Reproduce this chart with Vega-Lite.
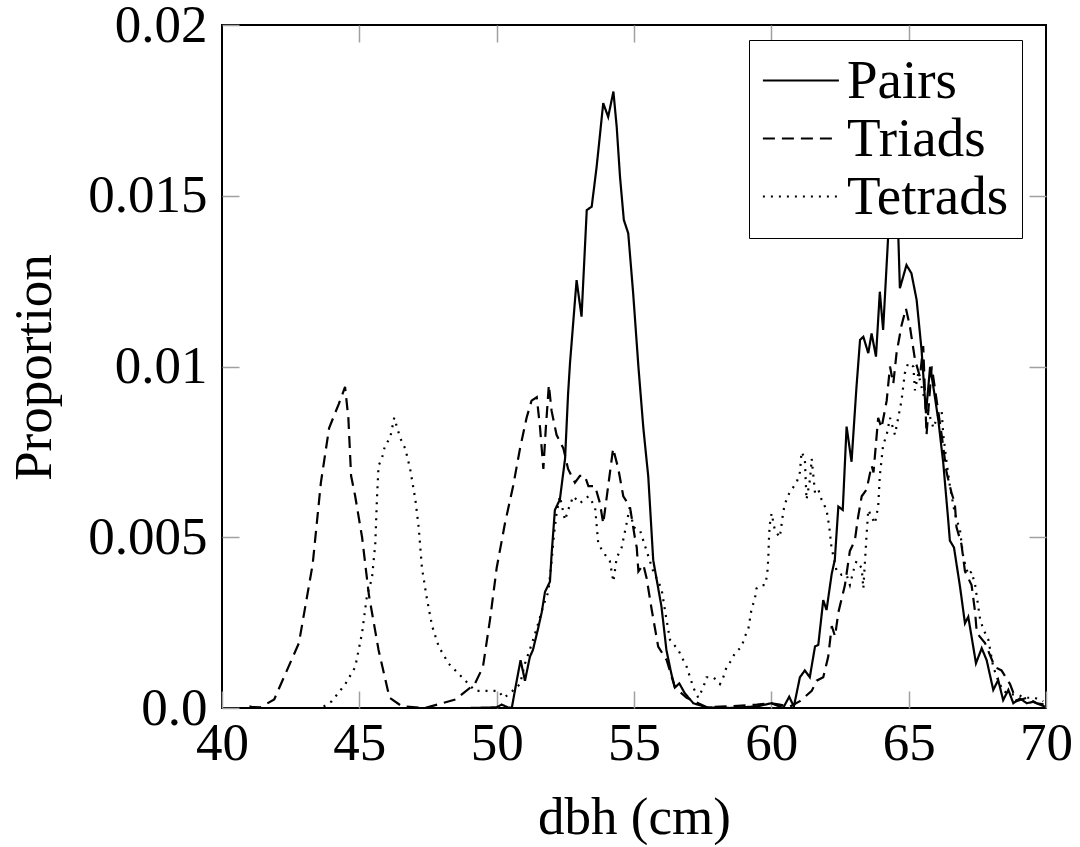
{
  "$schema": "https://vega.github.io/schema/vega-lite/v6.json",
  "width": 824,
  "height": 683,
  "autosize": "none",
  "padding": {"left": 222, "top": 25, "right": 34, "bottom": 139},
  "background": "white",
  "config": {
    "font": "Liberation Serif",
    "view": {"stroke": "black", "strokeWidth": 2}
  },
  "data": {"values": [
{"s":"Pairs","x":49.0,"y":0},{"s":"Pairs","x":50.0,"y":0.00002},{"s":"Pairs","x":50.18,"y":0.0001},{"s":"Pairs","x":50.4,"y":0.00002},{"s":"Pairs","x":50.55,"y":0},{"s":"Pairs","x":50.73,"y":0.0008},{"s":"Pairs","x":50.87,"y":0.0014},{"s":"Pairs","x":51.03,"y":0.0008},{"s":"Pairs","x":51.21,"y":0.0015},{"s":"Pairs","x":51.32,"y":0.0017},{"s":"Pairs","x":51.5,"y":0.0023},{"s":"Pairs","x":51.64,"y":0.0028},{"s":"Pairs","x":51.76,"y":0.0034},{"s":"Pairs","x":51.94,"y":0.0037},{"s":"Pairs","x":52.0,"y":0.0045},{"s":"Pairs","x":52.12,"y":0.0058},{"s":"Pairs","x":52.3,"y":0.0061},{"s":"Pairs","x":52.49,"y":0.0073},{"s":"Pairs","x":52.6,"y":0.0092},{"s":"Pairs","x":52.67,"y":0.0101},{"s":"Pairs","x":52.91,"y":0.01253},{"s":"Pairs","x":53.09,"y":0.01146},{"s":"Pairs","x":53.28,"y":0.01458},{"s":"Pairs","x":53.46,"y":0.01468},{"s":"Pairs","x":53.64,"y":0.01585},{"s":"Pairs","x":53.88,"y":0.01771},{"s":"Pairs","x":54.06,"y":0.01731},{"s":"Pairs","x":54.25,"y":0.01805},{"s":"Pairs","x":54.37,"y":0.01702},{"s":"Pairs","x":54.49,"y":0.01556},{"s":"Pairs","x":54.63,"y":0.01429},{"s":"Pairs","x":54.79,"y":0.0139},{"s":"Pairs","x":54.97,"y":0.01214},{"s":"Pairs","x":55.16,"y":0.0100},{"s":"Pairs","x":55.34,"y":0.0082},{"s":"Pairs","x":55.52,"y":0.00677},{"s":"Pairs","x":55.7,"y":0.00433},{"s":"Pairs","x":56.0,"y":0.00297},{"s":"Pairs","x":56.18,"y":0.0017},{"s":"Pairs","x":56.36,"y":0.001},{"s":"Pairs","x":56.49,"y":0.0006},{"s":"Pairs","x":56.65,"y":0.00072},{"s":"Pairs","x":56.85,"y":0.00043},{"s":"Pairs","x":57.16,"y":0.00014},{"s":"Pairs","x":57.64,"y":0.00002},{"s":"Pairs","x":58.5,"y":0},{"s":"Pairs","x":59.5,"y":0.00005},{"s":"Pairs","x":60.0,"y":0.00014},{"s":"Pairs","x":60.43,"y":0},{"s":"Pairs","x":60.65,"y":0.00033},{"s":"Pairs","x":60.82,"y":0.00004},{"s":"Pairs","x":61.04,"y":0.0009},{"s":"Pairs","x":61.22,"y":0.0011},{"s":"Pairs","x":61.4,"y":0.0009},{"s":"Pairs","x":61.59,"y":0.0018},{"s":"Pairs","x":61.71,"y":0.00185},{"s":"Pairs","x":61.89,"y":0.00316},{"s":"Pairs","x":62.01,"y":0.00287},{"s":"Pairs","x":62.2,"y":0.00394},{"s":"Pairs","x":62.31,"y":0.00433},{"s":"Pairs","x":62.44,"y":0.0059},{"s":"Pairs","x":62.6,"y":0.0058},{"s":"Pairs","x":62.74,"y":0.00824},{"s":"Pairs","x":62.92,"y":0.00721},{"s":"Pairs","x":63.1,"y":0.0094},{"s":"Pairs","x":63.23,"y":0.01078},{"s":"Pairs","x":63.35,"y":0.01087},{"s":"Pairs","x":63.53,"y":0.01039},{"s":"Pairs","x":63.65,"y":0.01097},{"s":"Pairs","x":63.81,"y":0.01029},{"s":"Pairs","x":63.95,"y":0.01219},{"s":"Pairs","x":64.07,"y":0.01107},{"s":"Pairs","x":64.3,"y":0.0145},{"s":"Pairs","x":64.45,"y":0.015},{"s":"Pairs","x":64.62,"y":0.0139},{"s":"Pairs","x":64.68,"y":0.01229},{"s":"Pairs","x":64.92,"y":0.01297},{"s":"Pairs","x":65.1,"y":0.01273},{"s":"Pairs","x":65.29,"y":0.01195},{"s":"Pairs","x":65.47,"y":0.01048},{"s":"Pairs","x":65.63,"y":0.00863},{"s":"Pairs","x":65.78,"y":0.00999},{"s":"Pairs","x":65.9,"y":0.0094},{"s":"Pairs","x":66.08,"y":0.00843},{"s":"Pairs","x":66.26,"y":0.00717},{"s":"Pairs","x":66.44,"y":0.0055},{"s":"Pairs","x":66.5,"y":0.0049},{"s":"Pairs","x":66.65,"y":0.0047},{"s":"Pairs","x":66.87,"y":0.00355},{"s":"Pairs","x":67.05,"y":0.00248},{"s":"Pairs","x":67.17,"y":0.00267},{"s":"Pairs","x":67.35,"y":0.0018},{"s":"Pairs","x":67.45,"y":0.00131},{"s":"Pairs","x":67.66,"y":0.00175},{"s":"Pairs","x":67.84,"y":0.0014},{"s":"Pairs","x":68.08,"y":0.00053},{"s":"Pairs","x":68.26,"y":0.00082},{"s":"Pairs","x":68.44,"y":0.00023},{"s":"Pairs","x":68.63,"y":0.00053},{"s":"Pairs","x":68.81,"y":0.00014},{"s":"Pairs","x":69.05,"y":0.00028},{"s":"Pairs","x":69.3,"y":0.00014},{"s":"Pairs","x":69.53,"y":0.00018},{"s":"Pairs","x":69.96,"y":0.00004},
{"s":"Triads","x":41.0,"y":0.00005},{"s":"Triads","x":41.1,"y":0.00003},{"s":"Triads","x":41.4,"y":0.00002},{"s":"Triads","x":41.9,"y":0.00025},{"s":"Triads","x":42.8,"y":0.0019},{"s":"Triads","x":43.3,"y":0.0042},{"s":"Triads","x":43.6,"y":0.0066},{"s":"Triads","x":43.9,"y":0.0082},{"s":"Triads","x":44.25,"y":0.0089},{"s":"Triads","x":44.48,"y":0.0094},{"s":"Triads","x":44.6,"y":0.0085},{"s":"Triads","x":44.7,"y":0.0068},{"s":"Triads","x":44.85,"y":0.0062},{"s":"Triads","x":45.1,"y":0.005},{"s":"Triads","x":45.35,"y":0.0033},{"s":"Triads","x":45.7,"y":0.0017},{"s":"Triads","x":46.1,"y":0.0003},{"s":"Triads","x":46.55,"y":0.00005},{"s":"Triads","x":47.4,"y":0.0},{"s":"Triads","x":48.5,"y":0.00025},{"s":"Triads","x":49.2,"y":0.0007},{"s":"Triads","x":49.5,"y":0.0012},{"s":"Triads","x":49.76,"y":0.0026},{"s":"Triads","x":50.0,"y":0.0041},{"s":"Triads","x":50.3,"y":0.0054},{"s":"Triads","x":50.6,"y":0.0065},{"s":"Triads","x":50.85,"y":0.0076},{"s":"Triads","x":51.09,"y":0.0085},{"s":"Triads","x":51.27,"y":0.009},{"s":"Triads","x":51.46,"y":0.0091},{"s":"Triads","x":51.58,"y":0.0082},{"s":"Triads","x":51.7,"y":0.007},{"s":"Triads","x":51.79,"y":0.0082},{"s":"Triads","x":51.9,"y":0.00946},{"s":"Triads","x":52.0,"y":0.0087},{"s":"Triads","x":52.18,"y":0.008},{"s":"Triads","x":52.43,"y":0.0076},{"s":"Triads","x":52.6,"y":0.007},{"s":"Triads","x":52.85,"y":0.0066},{"s":"Triads","x":53.03,"y":0.0068},{"s":"Triads","x":53.21,"y":0.0068},{"s":"Triads","x":53.34,"y":0.0065},{"s":"Triads","x":53.58,"y":0.0065},{"s":"Triads","x":53.76,"y":0.006},{"s":"Triads","x":53.88,"y":0.0054},{"s":"Triads","x":54.06,"y":0.0065},{"s":"Triads","x":54.24,"y":0.0076},{"s":"Triads","x":54.43,"y":0.007},{"s":"Triads","x":54.61,"y":0.0062},{"s":"Triads","x":54.85,"y":0.0059},{"s":"Triads","x":55.03,"y":0.005},{"s":"Triads","x":55.1,"y":0.0047},{"s":"Triads","x":55.16,"y":0.004},{"s":"Triads","x":55.34,"y":0.0042},{"s":"Triads","x":55.46,"y":0.0038},{"s":"Triads","x":55.64,"y":0.0029},{"s":"Triads","x":55.88,"y":0.0018},{"s":"Triads","x":56.19,"y":0.0014},{"s":"Triads","x":56.49,"y":0.0006},{"s":"Triads","x":56.92,"y":0.0003},{"s":"Triads","x":57.65,"y":0.00002},{"s":"Triads","x":58.5,"y":0.00005},{"s":"Triads","x":59.47,"y":0.0001},{"s":"Triads","x":60.0,"y":0.00014},{"s":"Triads","x":60.3,"y":0.0001},{"s":"Triads","x":60.68,"y":0.00004},{"s":"Triads","x":61.04,"y":0.0002},{"s":"Triads","x":61.47,"y":0.0005},{"s":"Triads","x":61.65,"y":0.0008},{"s":"Triads","x":61.89,"y":0.0009},{"s":"Triads","x":62.07,"y":0.0015},{"s":"Triads","x":62.2,"y":0.0024},{"s":"Triads","x":62.32,"y":0.0021},{"s":"Triads","x":62.44,"y":0.0028},{"s":"Triads","x":62.68,"y":0.0036},{"s":"Triads","x":62.86,"y":0.0046},{"s":"Triads","x":63.04,"y":0.0049},{"s":"Triads","x":63.16,"y":0.0056},{"s":"Triads","x":63.29,"y":0.0062},{"s":"Triads","x":63.47,"y":0.0064},{"s":"Triads","x":63.65,"y":0.0071},{"s":"Triads","x":63.72,"y":0.0069},{"s":"Triads","x":63.89,"y":0.0085},{"s":"Triads","x":64.01,"y":0.0082},{"s":"Triads","x":64.2,"y":0.009},{"s":"Triads","x":64.32,"y":0.01},{"s":"Triads","x":64.44,"y":0.0095},{"s":"Triads","x":64.56,"y":0.0104},{"s":"Triads","x":64.74,"y":0.0112},{"s":"Triads","x":64.9,"y":0.0117},{"s":"Triads","x":65.04,"y":0.0112},{"s":"Triads","x":65.23,"y":0.0102},{"s":"Triads","x":65.41,"y":0.0097},{"s":"Triads","x":65.53,"y":0.0106},{"s":"Triads","x":65.65,"y":0.008},{"s":"Triads","x":65.84,"y":0.01},{"s":"Triads","x":66.02,"y":0.009},{"s":"Triads","x":66.2,"y":0.008},{"s":"Triads","x":66.38,"y":0.0069},{"s":"Triads","x":66.56,"y":0.0063},{"s":"Triads","x":66.68,"y":0.006},{"s":"Triads","x":66.74,"y":0.0053},{"s":"Triads","x":66.92,"y":0.0048},{"s":"Triads","x":67.05,"y":0.004},{"s":"Triads","x":67.29,"y":0.0036},{"s":"Triads","x":67.42,"y":0.0028},{"s":"Triads","x":67.48,"y":0.0022},{"s":"Triads","x":67.78,"y":0.0019},{"s":"Triads","x":68.14,"y":0.0012},{"s":"Triads","x":68.38,"y":0.0011},{"s":"Triads","x":68.69,"y":0.0007},{"s":"Triads","x":68.93,"y":0.0002},{"s":"Triads","x":69.3,"y":0.0003},{"s":"Triads","x":69.66,"y":0.00014},{"s":"Triads","x":69.96,"y":0.0001},
{"s":"Tetrads","x":43.7,"y":0.00004},{"s":"Tetrads","x":44.0,"y":0.0002},{"s":"Tetrads","x":44.49,"y":0.0007},{"s":"Tetrads","x":44.85,"y":0.0012},{"s":"Tetrads","x":45.1,"y":0.0022},{"s":"Tetrads","x":45.28,"y":0.0033},{"s":"Tetrads","x":45.46,"y":0.0038},{"s":"Tetrads","x":45.58,"y":0.0048},{"s":"Tetrads","x":45.64,"y":0.0061},{"s":"Tetrads","x":45.7,"y":0.0071},{"s":"Tetrads","x":45.82,"y":0.0073},{"s":"Tetrads","x":45.94,"y":0.0077},{"s":"Tetrads","x":46.12,"y":0.0079},{"s":"Tetrads","x":46.27,"y":0.0085},{"s":"Tetrads","x":46.49,"y":0.0079},{"s":"Tetrads","x":46.67,"y":0.0076},{"s":"Tetrads","x":46.85,"y":0.007},{"s":"Tetrads","x":47.04,"y":0.0061},{"s":"Tetrads","x":47.16,"y":0.0053},{"s":"Tetrads","x":47.28,"y":0.0041},{"s":"Tetrads","x":47.46,"y":0.0032},{"s":"Tetrads","x":47.65,"y":0.0024},{"s":"Tetrads","x":47.89,"y":0.0018},{"s":"Tetrads","x":48.25,"y":0.0013},{"s":"Tetrads","x":48.74,"y":0.0009},{"s":"Tetrads","x":49.22,"y":0.0005},{"s":"Tetrads","x":49.71,"y":0.0005},{"s":"Tetrads","x":50.07,"y":0.0005},{"s":"Tetrads","x":50.25,"y":0.0003},{"s":"Tetrads","x":50.44,"y":0.0004},{"s":"Tetrads","x":50.85,"y":0.0007},{"s":"Tetrads","x":51.03,"y":0.0013},{"s":"Tetrads","x":51.33,"y":0.002},{"s":"Tetrads","x":51.52,"y":0.0025},{"s":"Tetrads","x":51.7,"y":0.003},{"s":"Tetrads","x":51.88,"y":0.0034},{"s":"Tetrads","x":52.0,"y":0.0043},{"s":"Tetrads","x":52.09,"y":0.0051},{"s":"Tetrads","x":52.18,"y":0.0057},{"s":"Tetrads","x":52.3,"y":0.0062},{"s":"Tetrads","x":52.49,"y":0.0055},{"s":"Tetrads","x":52.6,"y":0.0058},{"s":"Tetrads","x":52.79,"y":0.0062},{"s":"Tetrads","x":53.03,"y":0.006},{"s":"Tetrads","x":53.34,"y":0.0062},{"s":"Tetrads","x":53.58,"y":0.0059},{"s":"Tetrads","x":53.7,"y":0.0048},{"s":"Tetrads","x":53.94,"y":0.0045},{"s":"Tetrads","x":54.12,"y":0.0043},{"s":"Tetrads","x":54.25,"y":0.0037},{"s":"Tetrads","x":54.37,"y":0.0044},{"s":"Tetrads","x":54.55,"y":0.0047},{"s":"Tetrads","x":54.73,"y":0.0054},{"s":"Tetrads","x":54.85,"y":0.0059},{"s":"Tetrads","x":54.97,"y":0.0053},{"s":"Tetrads","x":55.22,"y":0.0052},{"s":"Tetrads","x":55.46,"y":0.0046},{"s":"Tetrads","x":55.7,"y":0.004},{"s":"Tetrads","x":56.0,"y":0.0035},{"s":"Tetrads","x":56.18,"y":0.0026},{"s":"Tetrads","x":56.31,"y":0.002},{"s":"Tetrads","x":56.61,"y":0.0017},{"s":"Tetrads","x":56.92,"y":0.0012},{"s":"Tetrads","x":57.16,"y":0.0006},{"s":"Tetrads","x":57.34,"y":0.0003},{"s":"Tetrads","x":57.52,"y":0.0006},{"s":"Tetrads","x":57.64,"y":0.0009},{"s":"Tetrads","x":57.89,"y":0.0009},{"s":"Tetrads","x":58.13,"y":0.0007},{"s":"Tetrads","x":58.25,"y":0.0009},{"s":"Tetrads","x":58.37,"y":0.0012},{"s":"Tetrads","x":58.55,"y":0.0014},{"s":"Tetrads","x":58.67,"y":0.0016},{"s":"Tetrads","x":58.92,"y":0.0018},{"s":"Tetrads","x":59.04,"y":0.0021},{"s":"Tetrads","x":59.16,"y":0.0023},{"s":"Tetrads","x":59.22,"y":0.0026},{"s":"Tetrads","x":59.28,"y":0.0029},{"s":"Tetrads","x":59.4,"y":0.0032},{"s":"Tetrads","x":59.46,"y":0.0035},{"s":"Tetrads","x":59.65,"y":0.0036},{"s":"Tetrads","x":59.77,"y":0.0036},{"s":"Tetrads","x":59.85,"y":0.0039},{"s":"Tetrads","x":59.89,"y":0.0044},{"s":"Tetrads","x":59.92,"y":0.0051},{"s":"Tetrads","x":59.95,"y":0.0054},{"s":"Tetrads","x":60.01,"y":0.0057},{"s":"Tetrads","x":60.13,"y":0.0052},{"s":"Tetrads","x":60.31,"y":0.005},{"s":"Tetrads","x":60.41,"y":0.0056},{"s":"Tetrads","x":60.47,"y":0.0059},{"s":"Tetrads","x":60.59,"y":0.0062},{"s":"Tetrads","x":60.74,"y":0.0064},{"s":"Tetrads","x":60.92,"y":0.0066},{"s":"Tetrads","x":61.04,"y":0.0069},{"s":"Tetrads","x":61.1,"y":0.0075},{"s":"Tetrads","x":61.22,"y":0.0073},{"s":"Tetrads","x":61.28,"y":0.0061},{"s":"Tetrads","x":61.41,"y":0.0067},{"s":"Tetrads","x":61.47,"y":0.0073},{"s":"Tetrads","x":61.59,"y":0.0063},{"s":"Tetrads","x":61.71,"y":0.0064},{"s":"Tetrads","x":61.83,"y":0.0061},{"s":"Tetrads","x":62.01,"y":0.0058},{"s":"Tetrads","x":62.11,"y":0.0053},{"s":"Tetrads","x":62.19,"y":0.0047},{"s":"Tetrads","x":62.38,"y":0.004},{"s":"Tetrads","x":62.56,"y":0.0039},{"s":"Tetrads","x":62.74,"y":0.0039},{"s":"Tetrads","x":62.86,"y":0.0036},{"s":"Tetrads","x":62.98,"y":0.004},{"s":"Tetrads","x":63.1,"y":0.0043},{"s":"Tetrads","x":63.29,"y":0.0041},{"s":"Tetrads","x":63.35,"y":0.0035},{"s":"Tetrads","x":63.47,"y":0.0051},{"s":"Tetrads","x":63.53,"y":0.0058},{"s":"Tetrads","x":63.65,"y":0.0056},{"s":"Tetrads","x":63.77,"y":0.0054},{"s":"Tetrads","x":63.89,"y":0.0059},{"s":"Tetrads","x":63.95,"y":0.0068},{"s":"Tetrads","x":64.07,"y":0.0077},{"s":"Tetrads","x":64.2,"y":0.008},{"s":"Tetrads","x":64.32,"y":0.0085},{"s":"Tetrads","x":64.5,"y":0.008},{"s":"Tetrads","x":64.62,"y":0.0085},{"s":"Tetrads","x":64.74,"y":0.009},{"s":"Tetrads","x":64.86,"y":0.0098},{"s":"Tetrads","x":64.98,"y":0.0101},{"s":"Tetrads","x":65.17,"y":0.01},{"s":"Tetrads","x":65.23,"y":0.0093},{"s":"Tetrads","x":65.35,"y":0.0098},{"s":"Tetrads","x":65.53,"y":0.0092},{"s":"Tetrads","x":65.71,"y":0.0087},{"s":"Tetrads","x":65.9,"y":0.0082},{"s":"Tetrads","x":66.08,"y":0.0086},{"s":"Tetrads","x":66.2,"y":0.0087},{"s":"Tetrads","x":66.26,"y":0.008},{"s":"Tetrads","x":66.38,"y":0.0072},{"s":"Tetrads","x":66.5,"y":0.0065},{"s":"Tetrads","x":66.68,"y":0.0057},{"s":"Tetrads","x":66.87,"y":0.0052},{"s":"Tetrads","x":66.99,"y":0.0044},{"s":"Tetrads","x":67.17,"y":0.0039},{"s":"Tetrads","x":67.29,"y":0.004},{"s":"Tetrads","x":67.42,"y":0.0036},{"s":"Tetrads","x":67.6,"y":0.0026},{"s":"Tetrads","x":67.72,"y":0.0023},{"s":"Tetrads","x":67.9,"y":0.002},{"s":"Tetrads","x":68.08,"y":0.0012},{"s":"Tetrads","x":68.26,"y":0.0008},{"s":"Tetrads","x":68.44,"y":0.0005},{"s":"Tetrads","x":68.69,"y":0.0004},{"s":"Tetrads","x":68.93,"y":0.0004},{"s":"Tetrads","x":69.23,"y":0.0003},{"s":"Tetrads","x":69.59,"y":0.0003},{"s":"Tetrads","x":69.9,"y":0.0002}
  ]},
  "layer": [
    {
      "mark": {"type": "line", "color": "black", "strokeWidth": 2.2, "clip": true},
      "encoding": {
        "x": {
          "field": "x", "type": "quantitative",
          "scale": {"domain": [40, 70], "nice": false, "zero": false},
          "axis": {
            "orient": "bottom", "values": [40, 45, 50, 55, 60, 65, 70], "format": "d",
            "labelFontSize": 53, "labelColor": "black", "labelFlush": false, "labelPadding": 26,
            "tickColor": "#a0a0a0", "tickSize": -17, "tickWidth": 1.5,
            "domain": false, "grid": false,
            "title": "dbh (cm)", "titleFontSize": 53, "titleFontWeight": "normal", "titleColor": "black",
            "titleX": 412, "titleY": 83, "titleBaseline": "top", "titleAlign": "center"
          }
        },
        "y": {
          "field": "y", "type": "quantitative",
          "scale": {"domain": [0, 0.02], "nice": false},
          "axis": {
            "orient": "left", "values": [0, 0.005, 0.01, 0.015, 0.02],
            "labelExpr": "datum.value == 0 ? '0.0' : '' + datum.value",
            "labelFontSize": 53, "labelColor": "black", "labelFlush": false, "labelPadding": 32,
            "tickColor": "#a0a0a0", "tickSize": -17, "tickWidth": 1.5,
            "domain": false, "grid": false,
            "title": "Proportion", "titleFontSize": 53, "titleFontWeight": "normal", "titleColor": "black",
            "titleX": -172, "titleY": 342, "titleBaseline": "alphabetic", "titleAlign": "center", "titleAngle": -90
          }
        },
        "strokeDash": {
          "field": "s", "type": "nominal",
          "scale": {"domain": ["Pairs", "Triads", "Tetrads"], "range": [[1, 0], [12, 7], [2, 6]]},
          "legend": {
            "orient": "none", "legendX": 527, "legendY": 15, "title": null,
            "labelFontSize": 55, "labelColor": "black", "labelLimit": 0, "labelOffset": 30,
            "symbolType": "M-1.4,0H2.6", "symbolSize": 1444, "symbolStrokeWidth": 2.2, "symbolStrokeColor": "black",
            "padding": 13, "strokeColor": "black", "fillColor": "white", "rowPadding": 2
          }
        }
      }
    },
    {
      "mark": {"type": "line", "opacity": 0},
      "encoding": {
        "x": {
          "field": "x", "type": "quantitative",
          "axis": {
            "orient": "top", "values": [45, 50, 55, 60, 65], "labels": false, "title": null,
            "tickColor": "#a0a0a0", "tickSize": -17, "tickWidth": 1.5, "domain": false, "grid": false
          }
        },
        "y": {
          "field": "y", "type": "quantitative",
          "axis": {
            "orient": "right", "values": [0.005, 0.01, 0.015], "labels": false, "title": null,
            "tickColor": "#a0a0a0", "tickSize": -17, "tickWidth": 1.5, "domain": false, "grid": false
          }
        },
        "detail": {"field": "s", "type": "nominal"}
      }
    }
  ],
  "resolve": {"axis": {"x": "independent", "y": "independent"}}
}
